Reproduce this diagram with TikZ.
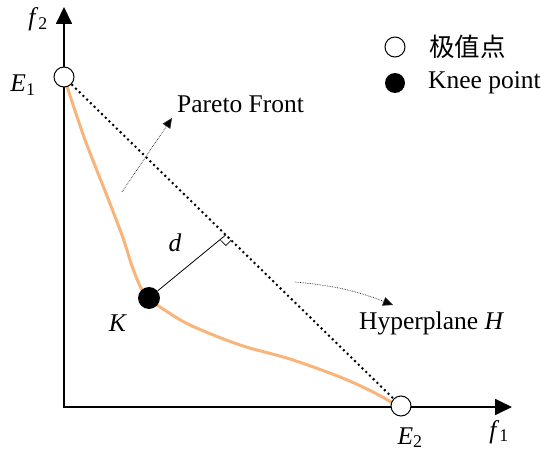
\documentclass[tikz,border=0pt]{standalone}
\usepackage{fontspec}
\setmainfont{Liberation Serif}
\newfontfamily\cjk{Noto Sans CJK SC}
\usetikzlibrary{arrows.meta,calc}
\definecolor{paretoorange}{RGB}{248,180,122}

\begin{document}
\begin{tikzpicture}[x=1pt,y=-1pt,font=\fontsize{25.5}{30}\selectfont,
  axisline/.style={line width=1.8pt,{Triangle[length=17pt,width=16pt]}-{Triangle[length=17pt,width=16pt]}},
  front/.style={line width=3pt,color=paretoorange,line cap=round},
  hyper/.style={line width=2pt,dash pattern=on 2pt off 3.2pt},
  pointer/.style={densely dotted,line width=0.7pt,black!85,-{Triangle[length=10pt,width=9pt,fill=black]}},
  extreme/.style={circle,draw,line width=1pt,fill=white,minimum size=20pt,inner sep=0pt},
  knee/.style={circle,fill=black,minimum size=22pt,inner sep=0pt},
  lbl/.style={inner sep=0pt}]
\useasboundingbox (0,0) rectangle (541,452);
% axes
\coordinate (O) at (64,407);
\coordinate (ytip) at (64,7);
\coordinate (xtip) at (512,407);
\draw[axisline] (ytip) -- (O) -- (xtip);
\node[lbl,anchor=base] (f2) at (38,26) {\textit{f}\textsubscript{2}};
\node[lbl,anchor=base] (f1) at (499,438) {\textit{f}\textsubscript{1}};
% pareto front
\draw[front] plot[smooth,tension=0.55] coordinates {(64,77) (84,137) (109,201) (123,238) (132,266) (141,288) (149,298) (160,307) (190,325) (240,345) (290,359) (340,377) (373,392) (398,406)};
\node[extreme] (E1) at (64,77) {};
\node[extreme] (E2) at (401,406) {};
\node[knee] (K) at (149,298) {};
\node[lbl,anchor=base] (E1l) at (23,92) {\textit{E}\textsubscript{1}};
\node[lbl,anchor=base] (E2l) at (410,444) {\textit{E}\textsubscript{2}};
\node[lbl,anchor=base] (Kl) at (118,331) {\textit{K}};
% hyperplane and distance
\draw[hyper] (E1) -- (E2);
\coordinate (F) at ($(E1)!0.48!(E2)$);
\draw[line width=0.8pt] (K) -- (F);
\draw[line width=0.7pt] ($(F)!7.5pt!(E2)$) -- ($($(F)!7.5pt!(E2)$)!7.5pt!90:(F)$) -- ($(F)!7.5pt!-90:(E2)$);
\node[lbl,anchor=base] (dl) at (175,251) {\textit{d}};
% labels with pointers
\node[lbl,anchor=base west] (pareto) at (177,113) {Pareto Front};
\coordinate (pf0) at (122,192);
\coordinate (pf1) at (172,118);
\draw[pointer] (pf0) -- (pf1);
\node[lbl,anchor=base west] (hyperl) at (359,329) {Hyperplane \textit{H}};
\coordinate (hp0) at (295,282);
\coordinate (hp1) at (393,305);
\draw[pointer] (hp0) to[bend left=8] (hp1);
% legend
\node[extreme] (legE) at (395,47) {};
\node[lbl,anchor=west] (legEt) at (429,47) {\cjk 极值点};
\node[knee,minimum size=20pt] (legK) at (395,83) {};
\node[lbl,anchor=west] (legKt) at (428,83) {Knee point};
\end{tikzpicture}
\end{document}
